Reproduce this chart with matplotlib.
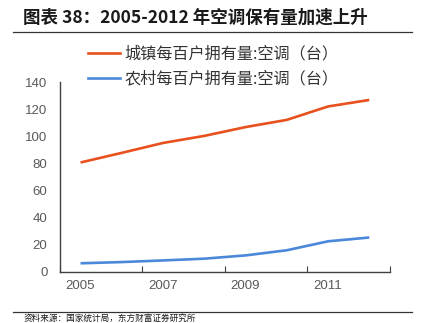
import numpy as np
import matplotlib
matplotlib.use("Agg")
import matplotlib.pyplot as plt
from matplotlib.lines import Line2D

plt.rcParams['font.family'] = ['Noto Sans CJK SC', 'DejaVu Sans']

years = ['2005', '2006', '2007', '2008', '2009', '2010', '2011', '2012']
urban = [80.7, 87.8, 95.1, 100.3, 106.8, 112.1, 122.0, 126.8]
rural = [6.4, 7.3, 8.5, 9.8, 12.2, 16.0, 22.6, 25.4]
urban_label = '城镇每百户拥有量:空调（台）'
rural_label = '农村每百户拥有量:空调（台）'

orange = '#E8501E'
blue = '#4A88DA'

fig = plt.figure(figsize=(4.22, 3.23), dpi=100)
ax = fig.add_axes([0.142, 0.158, 0.782, 0.588])

x = np.arange(len(years))
ax.plot(x, urban, color=orange, lw=1.9, solid_capstyle='butt')
ax.plot(x, rural, color=blue, lw=1.9, solid_capstyle='butt')

ax.set_xlim(-0.5, len(years) - 0.5)
ax.set_ylim(0, 140)
ax.set_yticks(np.arange(0, 141, 20))
# boundary ticks every two years, labels centred on the year
ax.set_xticks(np.arange(-0.5, len(years), 2))
ax.set_xticklabels([])
ax.set_xticks(x[::2], minor=True)
ax.set_xticklabels(years[::2], minor=True)
ax.tick_params(axis='x', which='minor', length=0, pad=6)
ax.tick_params(axis='x', which='major', direction='in', length=4, color='#404040')
ax.tick_params(axis='y', length=0, pad=9)
ax.tick_params(which='both', labelsize=9.5, labelcolor='#595959')
for lab in ax.get_xticklabels(minor=True) + ax.get_yticklabels():
    lab.set_family(['Liberation Sans', 'DejaVu Sans'])

for s in ['top', 'right']:
    ax.spines[s].set_visible(False)
for s in ['left', 'bottom']:
    ax.spines[s].set_color('#404040')
    ax.spines[s].set_linewidth(1.0)

handles = [Line2D([], [], color=orange, lw=1.9),
           Line2D([], [], color=blue, lw=1.9)]
ax.legend(handles, [urban_label, rural_label], loc='upper left',
          bbox_to_anchor=(0.04, 1.27), frameon=False,
          prop={'size': 11.6, 'weight': 'light'},
          handlelength=2.0, handletextpad=0.3, labelspacing=0.5,
          labelcolor='#333333')

fig.text(0.055, 0.945, '图表 38：2005-2012 年空调保有量加速上升',
         fontsize=12.6, fontweight='bold', color='#1a1a1a', va='center')
fig.add_artist(Line2D([0.03, 0.977], [0.902, 0.902], color='#333333', lw=0.9,
                      transform=fig.transFigure))
fig.add_artist(Line2D([0.03, 0.977], [0.034, 0.034], color='#333333', lw=0.9,
                      transform=fig.transFigure))
fig.text(0.055, 0.0155, '资料来源：国家统计局，东方财富证券研究所',
         fontsize=6.2, color='#1a1a1a', va='center')

fig.savefig('out.png', dpi=100)
